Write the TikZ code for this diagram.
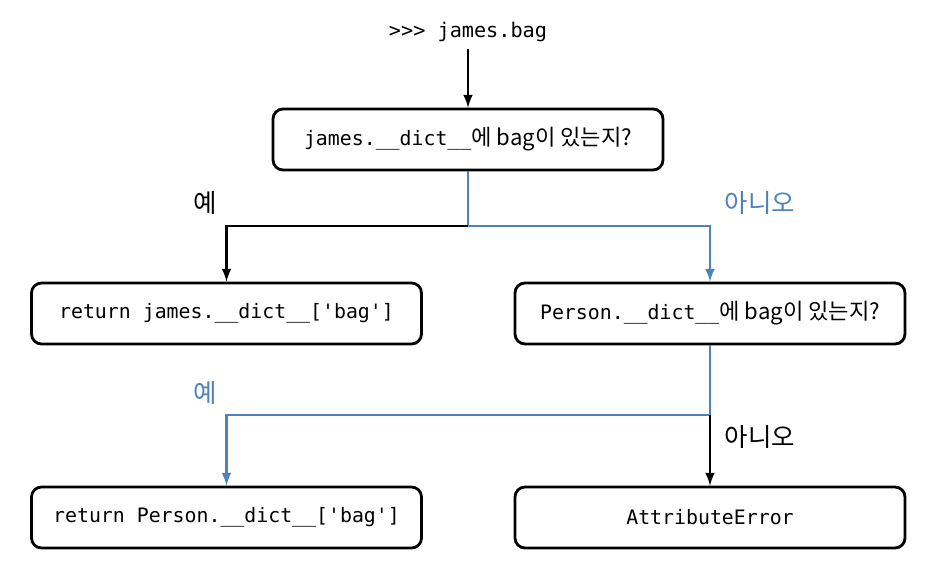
\documentclass[tikz,border=0pt]{standalone}
\usepackage{fontspec}
\usepackage{xcolor}
\setmonofont{DejaVu Sans Mono}
\newfontfamily\kr{Noto Sans CJK KR}
\newcommand{\krbox}[1]{{\kr\fontsize{12.6}{14}\selectfont #1}}
\usetikzlibrary{calc, positioning}
\definecolor{noblue}{RGB}{79,129,189}

\begin{document}
\begin{tikzpicture}[->,>=latex,line width=1.5pt,
                    main node/.style={rectangle,rounded corners=0.2cm,draw,line width=1.6pt,minimum width=7.8cm,minimum height=1.22cm,font=\ttfamily\fontsize{11.3}{13}\selectfont},
                    answer/.style={font=\kr\fontsize{14.5}{16}\selectfont}]

\useasboundingbox (0,0) rectangle (18.8,-11.58);

%Start and first question
  \node[font=\ttfamily\fontsize{11.5}{13}\selectfont] (Start) at (9.36,-0.64) {>>> james.bag};
  \node[main node] (AskJames) at (9.36,-2.79) {james.\_\_dict\_\_\krbox{에 bag이 있는지?}};
  \draw (Start) -- (AskJames);

%Second row
  \node[main node] (ReturnJames) at (4.53,-6.27) {return james.\_\_dict\_\_['bag']};
  \node[main node] (AskPerson) at (14.2,-6.27) {Person.\_\_dict\_\_\krbox{에 bag이 있는지?}};

  \coordinate (Split1) at (9.36,-4.52);
  \draw[-,color=noblue] (AskJames) -- (Split1);
  \draw (Split1) -| (ReturnJames);
  \draw[color=noblue] (Split1) -| (AskPerson);

  \node[answer] (Yes1) at (4.1,-4.06) {예};
  \node[answer,color=noblue] (No1) at (15.2,-4.06) {아니오};

%Third row
  \node[main node] (ReturnPerson) at (4.53,-10.35) {return Person.\_\_dict\_\_['bag']};
  \node[main node] (AttrError) at (14.2,-10.35) {AttributeError};

  \coordinate (Split2) at (14.2,-8.3);
  \draw[-,color=noblue] (AskPerson) -- (Split2);
  \draw[color=noblue] (Split2) -| (ReturnPerson);
  \draw (Split2) -- (AttrError);

  \node[answer,color=noblue] (Yes2) at (4.1,-7.86) {예};
  \node[answer] (No2) at (15.2,-8.74) {아니오};

\end{tikzpicture}
\end{document}
